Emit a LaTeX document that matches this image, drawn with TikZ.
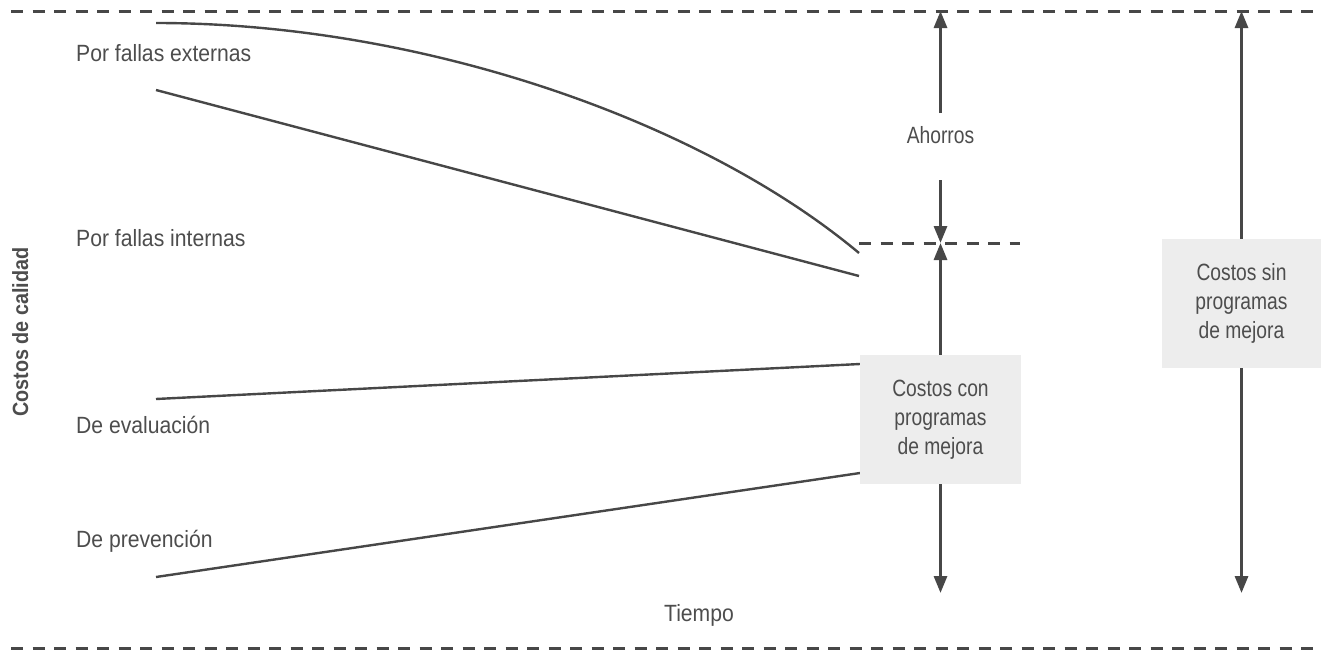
\documentclass[tikz,border=0pt]{standalone}
\usepackage{fontspec}
\setmainfont{Liberation Sans}[FakeStretch=0.9]
\newfontfamily\narrowfont{Liberation Sans}[FakeStretch=0.82]
\usetikzlibrary{arrows.meta}
\definecolor{ink}{HTML}{474747}
\definecolor{txt}{HTML}{4D4D4D}
\definecolor{boxfill}{HTML}{EDEDED}
\tikzset{
  curveline/.style={ink, line width=2.4pt},
  dashline/.style={ink, line width=3pt, dash pattern=on 12pt off 9.5pt},
  arr/.style={ink, line width=3pt, -{Triangle[length=17pt,width=13pt]}},
  lbl/.style={anchor=base west, inner sep=0pt, text=txt},
  mid/.style={anchor=base, inner sep=0pt, text=txt},
  costbox/.style={fill=boxfill, align=center, inner sep=0pt, text=txt,
    font=\narrowfont\fontsize{23.5}{29}\selectfont},
}
\begin{document}
\begin{tikzpicture}[x=1pt, y=-1pt, font=\fontsize{23.5}{29}\selectfont]
\useasboundingbox (0,0) rectangle (1321,651);

% dashed frame lines
\coordinate (tl) at (11,11);
\coordinate (tr) at (1321,11);
\coordinate (bl) at (11,648);
\coordinate (br) at (1321,648);
\draw[dashline] (tl) -- (tr);
\draw[dashline] (bl) -- (br);

% cost curves
\coordinate (e0) at (156,23);
\coordinate (e1) at (859,253);
\coordinate (i0) at (156,90);
\coordinate (i1) at (859,276);
\coordinate (v0) at (156,399);
\coordinate (v1) at (860,364);
\coordinate (p0) at (156,577);
\coordinate (p1) at (860,473);
\draw[curveline] (e0) .. controls (420,23) and (700,120) .. (e1);
\draw[curveline] (i0) -- (i1);
\draw[curveline] (v0) -- (v1);
\draw[curveline] (p0) -- (p1);

% labels
\node[lbl] (lext) at (76,61) {Por fallas externas};
\node[lbl] (lint) at (76,246.5) {Por fallas internas};
\node[lbl] (leva) at (76,433) {De evaluación};
\node[lbl] (lpre) at (76,547) {De prevención};
\node[mid] (tiempo) at (699,621) {Tiempo};
\node[mid, rotate=90, font=\fontsize{22}{26}\selectfont\bfseries] (ylab) at (28,332) {Costos de calidad};

% middle dashed line
\coordinate (md0) at (859,243);
\coordinate (md1) at (1020,243);
\draw[dashline] (md0) -- (md1);

% boxes
\node[costbox, minimum width=161pt, minimum height=129pt] (mbox) at (940.5,419.5) {Costos con\\programas\\de mejora};
\node[costbox, minimum width=159pt, minimum height=129pt] (rbox) at (1241.5,303.5) {Costos sin\\programas\\de mejora};

% savings arrows
\coordinate (atop) at (940.5,11);
\coordinate (a1) at (940.5,113);
\coordinate (a2) at (940.5,180);
\coordinate (amid) at (940.5,243);
\coordinate (abot) at (940.5,593);
\node[mid, font=\narrowfont\fontsize{23.5}{29}\selectfont] (ahorros) at (940.5,143) {Ahorros};
\draw[arr] (a1) -- (atop);
\draw[arr] (a2) -- (amid);
\draw[arr] (mbox.north) -- (amid);
\draw[arr] (mbox.south) -- (abot);

% right arrows
\coordinate (rtop) at (1241.5,11);
\coordinate (rbot) at (1241.5,593);
\draw[arr] (rbox.north) -- (rtop);
\draw[arr] (rbox.south) -- (rbot);
\end{tikzpicture}
\end{document}
